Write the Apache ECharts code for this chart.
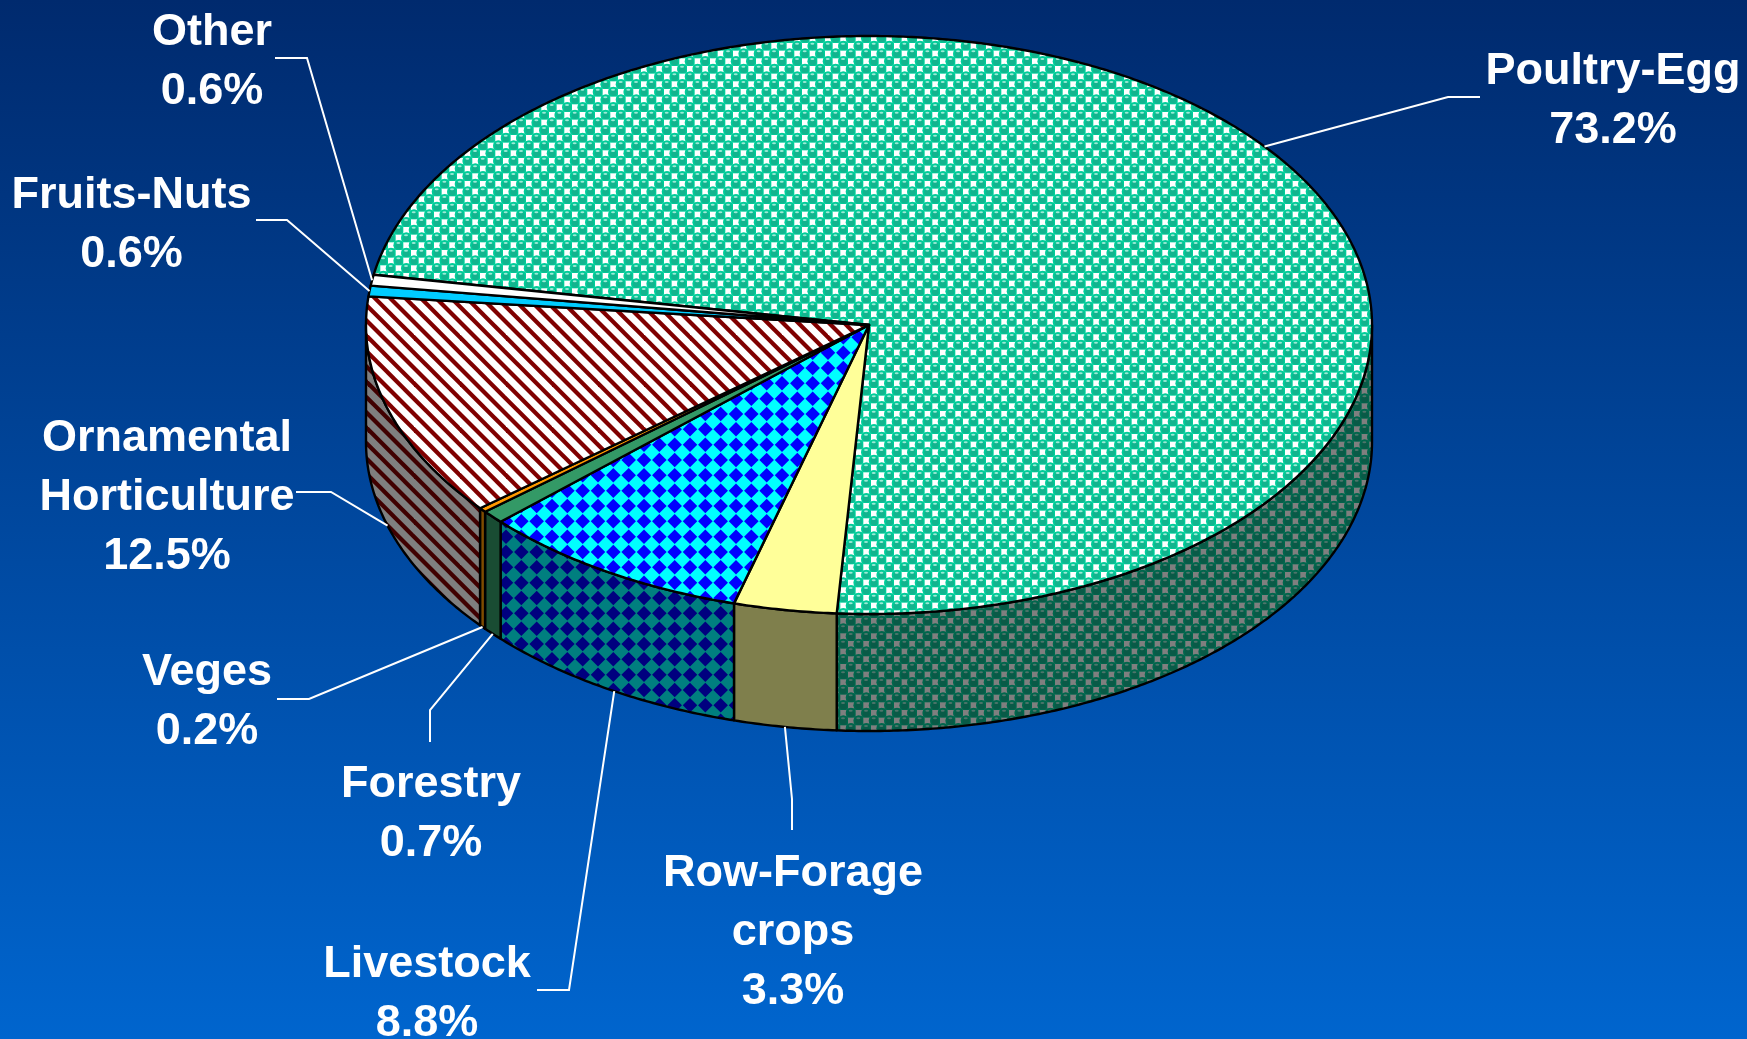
<!DOCTYPE html>
<html>
<head>
<meta charset="utf-8">
<style>html,body{margin:0;padding:0;background:#004a9c}#c{width:1747px;height:1039px}</style>
<script src="https://cdn.jsdelivr.net/npm/echarts@6/dist/echarts.min.js"></script>
</head>
<body>
<div id="c"></div>
<script>
// ---- data (clockwise from the Poultry-Egg slice)
const categories = ['Poultry-Egg','Row-Forage\ncrops','Livestock','Forestry','Veges','Ornamental\nHorticulture','Fruits-Nuts','Other'];
const values = [73.2, 3.3, 8.75, 0.74, 0.249, 12.5, 0.6, 0.6];

// ---- layout
const CX = 869, CY = 325, RX = 503, RY = 289, DEPTH = 117, START = 280;
const labelCentres = [[1613,101.5],[793,933],[427,994.5],[431,814.5],[207,702.5],[167,498],[131.5,225.5],[212,62.5]];
const leaderElbows = [
  [[1448,97],[1480,97]], [[792,799],[792,830]], [[569,990],[537,990]], [[430,710],[430,742]],
  [[309,699],[277,699]], [[331,492],[296,492]], [[287,220],[256,220]], [[307,58],[275,58]]
];
const anchorNudgeDeg = [0, 0, -0.9, 0, 0, 0, 0, 0];

// ---- fills
function tile(size, draw, dark) {
  const c = document.createElement('canvas');
  c.width = c.height = size;
  const g = c.getContext('2d');
  draw(g, size);
  if (dark) { g.fillStyle = 'rgba(0,0,0,0.5)'; g.fillRect(0,0,size,size); }
  return {image: c, repeat: 'repeat'};
}
function bubbles(g, s) {
  const p = s / 6;
  g.fillStyle = '#3CD8B2'; g.fillRect(0,0,s,s);
  for (let i = -1; i <= 7; i++) for (let j = -1; j <= 7; j++) {
    const x = i * p, y = j * p;
    if ((i + j + 2) % 2) {
      g.fillStyle = '#fff'; g.fillRect(x - 3, y - 3, 6, 6);
    } else {
      g.fillStyle = '#00CC99'; g.beginPath(); g.arc(x, y, 5.3, 0, 7); g.fill();
      g.fillStyle = '#12B48E'; g.beginPath(); g.arc(x, y + 0.6, 3.4, 0, 7); g.fill();
      g.fillStyle = '#9BEBD6'; g.beginPath(); g.ellipse(x - 0.3, y - 2.3, 2, 1, 0, 0, 7); g.fill();
    }
  }
}
function diamonds(colA, colB) {
  return function (g, s) {
    const p = s / 3, r = p / 2 - 0.4;
    g.fillStyle = colA; g.fillRect(0,0,s,s);
    g.fillStyle = colB;
    for (let i = -1; i <= 4; i++) for (let j = -1; j <= 4; j++) {
      const x = i * p, y = j * p;
      g.beginPath(); g.moveTo(x, y - r); g.lineTo(x + r, y); g.lineTo(x, y + r); g.lineTo(x - r, y); g.closePath(); g.fill();
    }
  };
}
function stripes(g, s) {
  const p = s / 3;
  g.fillStyle = '#fff'; g.fillRect(0,0,s,s);
  g.strokeStyle = '#800000'; g.lineWidth = 4.2;
  for (let k = -4; k <= 7; k++) {
    g.beginPath(); g.moveTo(k * p - 6, -6); g.lineTo(k * p + s + 6, s + 6); g.stroke();
  }
}
function solid(hex) { return function (g, s) { g.fillStyle = hex; g.fillRect(0,0,s,s); }; }
const painters = [
  [bubbles, 46], [solid('#FFFF99'), 8], [diamonds('#00FFFF','#0000FF'), 46], [solid('#339966'), 8],
  [solid('#FF9900'), 8], [stripes, 46], [solid('#00CCFF'), 8], [solid('#FFFFFF'), 8]
];
const topFills = painters.map(p => tile(p[1], p[0], false));
const wallFills = painters.map(p => tile(p[1], p[0], true));

// ---- geometry derived from the values
const total = values.reduce((a, b) => a + b, 0);
function pt(deg, dy) {
  const r = deg * Math.PI / 180;
  return [CX + RX * Math.sin(r), CY - RY * Math.cos(r) + (dy || 0)];
}
function arc(a0, a1, dy) {
  const out = [], n = Math.max(1, Math.ceil(Math.abs(a1 - a0) / 0.5));
  for (let i = 0; i <= n; i++) out.push(pt(a0 + (a1 - a0) * i / n, dy));
  return out;
}
function range(idx) {
  let a = START;
  for (let i = 0; i < idx; i++) a += values[i] / total * 360;
  return [a, a + values[idx] / total * 360];
}
function wallsFor(a0, a1) {
  // front-facing part of the rim: clockwise angles 90..270 (mod 360)
  const res = [];
  for (const off of [0, 360]) {
    const lo = Math.max(a0, 90 + off), hi = Math.min(a1, 270 + off);
    if (hi > lo) res.push([lo, hi]);
  }
  return res;
}
const lineStyle = {stroke: '#000', lineWidth: 2.4, lineJoin: 'round'};

function renderSlice(params, api) {
  const i = params.dataIndex;
  const v = api.value(0);
  const [a0, a1] = range(i);
  const children = [];
  wallsFor(a0, a1).forEach(w => {
    children.push({
      type: 'polygon', z2: 1,
      shape: {points: arc(w[0], w[1], 0).concat(arc(w[1], w[0], DEPTH))},
      style: Object.assign({fill: wallFills[i]}, lineStyle)
    });
  });
  children.push({
    type: 'polygon', z2: 2,
    shape: {points: [[CX, CY]].concat(arc(a0, a1, 0))},
    style: Object.assign({fill: topFills[i]}, lineStyle)
  });
  const mid = ((a0 + a1) / 2 + anchorNudgeDeg[i]) % 360;
  const anchor = pt(mid, mid > 90 && mid < 270 ? DEPTH : 0);
  children.push({
    type: 'polyline', z2: 3,
    shape: {points: [anchor].concat(leaderElbows[i])},
    style: {stroke: '#fff', lineWidth: 2, fill: null}
  });
  children.push({
    type: 'text', z2: 4,
    x: labelCentres[i][0], y: labelCentres[i][1],
    style: {
      text: categories[i] + '\n' + v.toFixed(1) + '%',
      fill: '#fff', align: 'center', verticalAlign: 'middle',
      fontFamily: '"Liberation Sans", Arial, sans-serif', fontWeight: 'bold', fontSize: 45, lineHeight: 59
    }
  });
  return {type: 'group', children};
}

const chart = echarts.init(document.getElementById('c'), null, {renderer: 'canvas'});
chart.setOption({
  animation: false,
  backgroundColor: {
    type: 'linear', x: 0, y: 0, x2: 0, y2: 1,
    colorStops: [{offset: 0, color: '#002A6E'}, {offset: 1, color: '#0065CE'}]
  },
  series: [{
    type: 'custom',
    coordinateSystem: 'none',
    silent: true,
    clip: false,
    renderItem: renderSlice,
    data: values.map((v, i) => ({name: categories[i], value: [v]}))
  }]
});
</script>
</body>
</html>
